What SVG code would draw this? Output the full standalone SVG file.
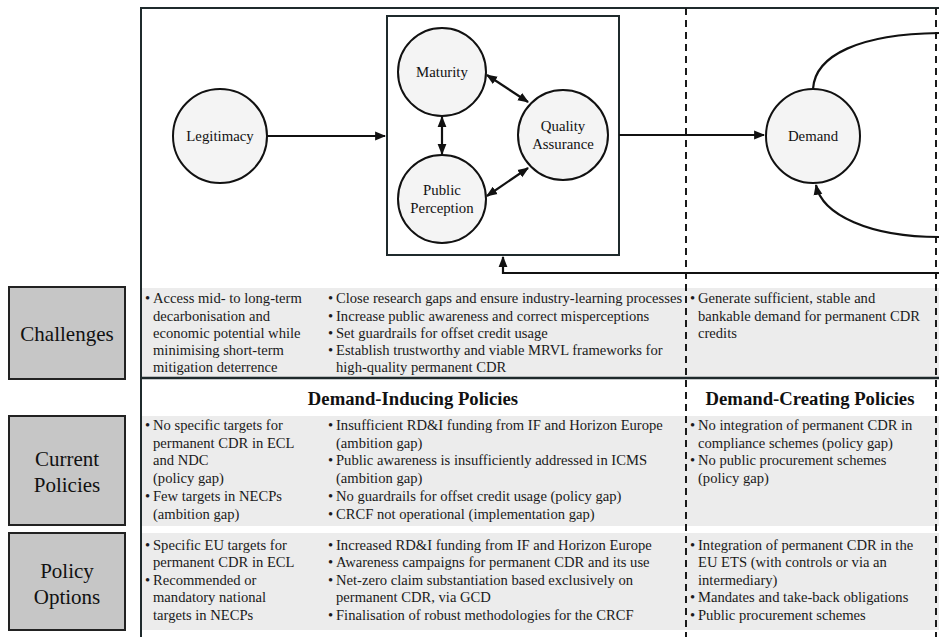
<svg xmlns="http://www.w3.org/2000/svg" width="939" height="637" viewBox="0 0 939 637">
<style>
.fr{fill:none;stroke:#1f2a2c;stroke-width:2}
.dash{fill:none;stroke:#1a1a1a;stroke-width:2;stroke-dasharray:7,5}
.node{fill:#f4f4f4;stroke:#111;stroke-width:2}
.lbl{font-family:"Liberation Serif","Times New Roman",serif;font-size:14.8px;fill:#111;text-anchor:middle}
.t{font-family:"Liberation Serif","Times New Roman",serif;font-size:14.6px;fill:#1a1a1a}
.hd{font-family:"Liberation Serif","Times New Roman",serif;font-size:18.7px;font-weight:bold;fill:#111;text-anchor:middle}
.box{fill:#c6c6c6;stroke:#222;stroke-width:2}
.bl{font-family:"Liberation Serif","Times New Roman",serif;font-size:21px;fill:#111;text-anchor:middle}
.row{fill:#ececec}
.con{fill:none;stroke:#111;stroke-width:2.2}
</style>
<defs>
<marker id="ah" viewBox="0 0 10 10" refX="9" refY="5" markerWidth="5" markerHeight="5" orient="auto-start-reverse">
<path d="M0,1 L10,5 L0,9 z" fill="#111"/>
</marker>
</defs>
<rect width="939" height="637" fill="#ffffff"/>

<!-- row backgrounds -->
<rect class="row" x="142" y="288" width="797" height="90"/>
<rect class="row" x="142" y="416" width="797" height="110"/>
<rect class="row" x="142" y="533" width="797" height="97"/>

<!-- frame -->
<g id="frame">
<path class="fr" d="M141,637 V8 H939"/>
<path class="fr" d="M141,378 H939" style="stroke-width:2.5"/>
<rect class="fr" x="387" y="16" width="232" height="239"/>
<path class="dash" d="M686,8 V637"/>
<path class="dash" d="M936,8 V637"/>
</g>

<!-- nodes -->
<g id="legitimacy"><circle class="node" cx="220" cy="136" r="47"/><text class="lbl" x="220" y="141">Legitimacy</text></g>
<g id="maturity"><circle class="node" cx="442" cy="72" r="44"/><text class="lbl" x="442" y="77">Maturity</text></g>
<g id="public-perception"><circle class="node" cx="442" cy="199" r="44"/><text class="lbl" x="442" y="195">Public</text><text class="lbl" x="442" y="213">Perception</text></g>
<g id="quality-assurance"><circle class="node" cx="563" cy="135" r="45"/><text class="lbl" x="563" y="131">Quality</text><text class="lbl" x="563" y="149">Assurance</text></g>
<g id="demand"><circle class="node" cx="813" cy="136" r="47"/><text class="lbl" x="813" y="141">Demand</text></g>

<!-- connectors -->
<g id="connectors">
<path class="con" d="M267,136 H385" marker-end="url(#ah)"/>
<path class="con" d="M442,117 V154" marker-start="url(#ah)" marker-end="url(#ah)"/>
<path class="con" d="M487,75 L528,102" marker-start="url(#ah)" marker-end="url(#ah)"/>
<path class="con" d="M487,196 L528,168" marker-start="url(#ah)" marker-end="url(#ah)"/>
<path class="con" d="M619,135 H764" marker-end="url(#ah)"/>
<path class="con" d="M813,89 C815,55 860,34 939,33"/>
<path class="con" d="M939,237 C870,237 822,215 816,185" marker-end="url(#ah)"/>
<path class="con" d="M939,273 H503 V257" marker-end="url(#ah)"/>
</g>

<!-- row label boxes -->
<g id="challenges-label"><rect class="box" x="9" y="287" width="116" height="92"/><text class="bl" x="67" y="341">Challenges</text></g>
<g id="current-label"><rect class="box" x="9" y="416" width="116" height="109"/><text class="bl" x="67" y="466">Current</text><text class="bl" x="67" y="492">Policies</text></g>
<g id="options-label"><rect class="box" x="9" y="533" width="116" height="97"/><text class="bl" x="67" y="578">Policy</text><text class="bl" x="67" y="604">Options</text></g>

<!-- headings -->
<text class="hd" x="413" y="405">Demand-Inducing Policies</text>
<text class="hd" x="810" y="405">Demand-Creating Policies</text>

<!-- challenges -->
<g id="challenges-text">
<text class="t"><tspan x="145" y="303">•</tspan><tspan x="153">Access mid- to long-term</tspan><tspan x="153" y="321">decarbonisation and</tspan><tspan x="153" y="338">economic potential while</tspan><tspan x="153" y="355">minimising short-term</tspan><tspan x="153" y="372">mitigation deterrence</tspan></text>
<text class="t"><tspan x="328" y="303">•</tspan><tspan x="336">Close research gaps and ensure industry-learning processes</tspan><tspan x="328" y="321">•</tspan><tspan x="336">Increase public awareness and correct misperceptions</tspan><tspan x="328" y="338">•</tspan><tspan x="336">Set guardrails for offset credit usage</tspan><tspan x="328" y="355">•</tspan><tspan x="336">Establish trustworthy and viable MRVL frameworks for</tspan><tspan x="336" y="372">high-quality permanent CDR</tspan></text>
<text class="t"><tspan x="690" y="303">•</tspan><tspan x="698">Generate sufficient, stable and</tspan><tspan x="698" y="321">bankable demand for permanent CDR</tspan><tspan x="698" y="338">credits</tspan></text>
</g>

<!-- current policies -->
<g id="current-text">
<text class="t"><tspan x="145" y="430">•</tspan><tspan x="153">No specific targets for</tspan><tspan x="153" y="448">permanent CDR in ECL</tspan><tspan x="153" y="465">and NDC</tspan><tspan x="153" y="483">(policy gap)</tspan><tspan x="145" y="501">•</tspan><tspan x="153">Few targets in NECPs</tspan><tspan x="153" y="519">(ambition gap)</tspan></text>
<text class="t"><tspan x="328" y="430">•</tspan><tspan x="336">Insufficient RD&amp;I funding from IF and Horizon Europe</tspan><tspan x="336" y="448">(ambition gap)</tspan><tspan x="328" y="465">•</tspan><tspan x="336">Public awareness is insufficiently addressed in ICMS</tspan><tspan x="336" y="483">(ambition gap)</tspan><tspan x="328" y="501">•</tspan><tspan x="336">No guardrails for offset credit usage (policy gap)</tspan><tspan x="328" y="519">•</tspan><tspan x="336">CRCF not operational (implementation gap)</tspan></text>
<text class="t"><tspan x="690" y="430">•</tspan><tspan x="698">No integration of permanent CDR in</tspan><tspan x="698" y="448">compliance schemes (policy gap)</tspan><tspan x="690" y="465">•</tspan><tspan x="698">No public procurement schemes</tspan><tspan x="698" y="483">(policy gap)</tspan></text>
</g>

<!-- policy options -->
<g id="options-text">
<text class="t"><tspan x="145" y="550">•</tspan><tspan x="153">Specific EU targets for</tspan><tspan x="153" y="567">permanent CDR in ECL</tspan><tspan x="145" y="585">•</tspan><tspan x="153">Recommended or</tspan><tspan x="153" y="602">mandatory national</tspan><tspan x="153" y="620">targets in NECPs</tspan></text>
<text class="t"><tspan x="328" y="550">•</tspan><tspan x="336">Increased RD&amp;I funding from IF and Horizon Europe</tspan><tspan x="328" y="567">•</tspan><tspan x="336">Awareness campaigns for permanent CDR and its use</tspan><tspan x="328" y="585">•</tspan><tspan x="336">Net-zero claim substantiation based exclusively on</tspan><tspan x="336" y="602">permanent CDR, via GCD</tspan><tspan x="328" y="620">•</tspan><tspan x="336">Finalisation of robust methodologies for the CRCF</tspan></text>
<text class="t"><tspan x="690" y="550">•</tspan><tspan x="698">Integration of permanent CDR in the</tspan><tspan x="698" y="567">EU ETS (with controls or via an</tspan><tspan x="698" y="585">intermediary)</tspan><tspan x="690" y="602">•</tspan><tspan x="698">Mandates and take-back obligations</tspan><tspan x="690" y="620">•</tspan><tspan x="698">Public procurement schemes</tspan></text>
</g>
</svg>
